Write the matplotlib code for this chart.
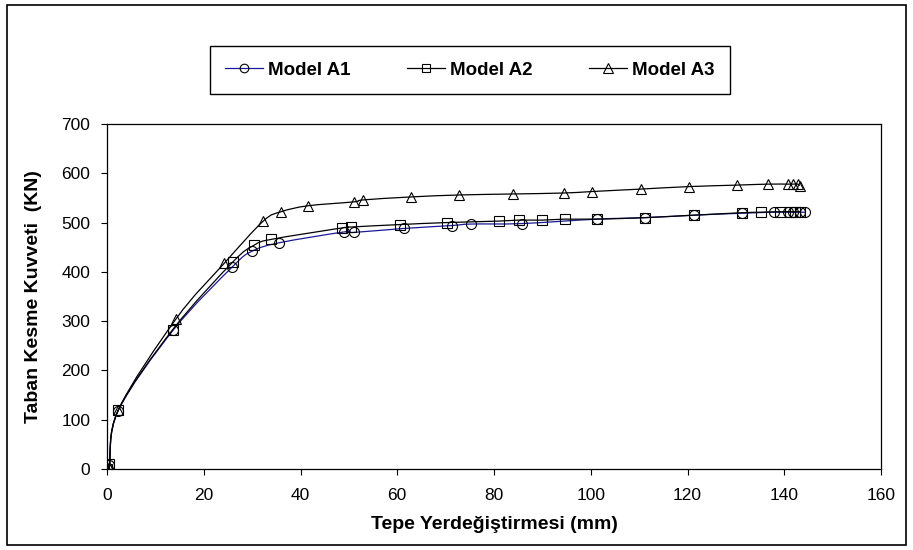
import numpy as np
import matplotlib
matplotlib.use("Agg")
import matplotlib.pyplot as plt
from matplotlib.path import Path
from matplotlib.patches import PathPatch, Rectangle
from matplotlib.lines import Line2D

plt.rcParams['font.family'] = ['Liberation Sans', 'DejaVu Sans']

# --- veriler (okunan değerler) ---
a1_x = [0, 0.5, 2.3, 13.7, 25.9, 30.0, 35.6, 49.0, 51.0, 61.3, 71.3, 75.2, 85.7,
        101.3, 111.2, 121.3, 131.3, 137.9, 140.8, 141.8, 143.3, 144.3]
a1_y = [0, 8, 118, 282, 410, 442, 459, 481, 480, 488, 494, 497, 498,
        507, 510, 515, 519, 521, 521, 521, 521, 521]

a2_x = [0, 0.5, 2.3, 13.6, 26.0, 30.4, 34.0, 48.5, 50.5, 60.6, 70.2, 81.0, 85.2,
        90.0, 94.7, 101.3, 111.2, 121.3, 131.3, 135.1, 139.1, 141.2, 142.3, 143.3]
a2_y = [0, 10, 119, 283, 420, 454, 466, 489, 491, 496, 500, 503, 505,
        505, 507, 507, 510, 515, 520, 521, 522, 522, 522, 522]

a3_x = [0, 0.5, 2.3, 14.3, 24.2, 32.3, 36.0, 41.5, 51.0, 53.0, 62.8, 72.8, 83.9,
        94.5, 100.3, 110.4, 120.3, 130.2, 136.6, 140.8, 141.8, 142.8, 143.2]
a3_y = [0, 5, 119, 305, 417, 503, 522, 534, 542, 546, 552, 556, 558,
        560, 563, 568, 573, 576, 578, 578, 578, 578, 575]

labels = ["Model A1", "Model A2", "Model A3"]


def smooth_path(xs, ys):
    # Excel tarzı yumuşatılmış çizgi (Catmull-Rom -> Bezier)
    p = np.column_stack([xs, ys]).astype(float)
    pts = np.vstack([p[0], p, p[-1]])
    verts = [p[0]]
    codes = [Path.MOVETO]
    for i in range(1, len(pts) - 2):
        p0, p1, p2, p3 = pts[i - 1], pts[i], pts[i + 1], pts[i + 2]
        c1 = p1 + (p2 - p0) / 6.0
        c2 = p2 - (p3 - p1) / 6.0
        verts += [c1, c2, p2]
        codes += [Path.CURVE4] * 3
    return Path(verts, codes)


fig = plt.figure(figsize=(9.13, 5.5), dpi=100)
ax = fig.add_axes([107 / 913, 1 - 469 / 550, (881 - 107) / 913, (469 - 124) / 550])

series = [
    (a1_x, a1_y, "#1a1a9a", "o", 7.2),
    (a2_x, a2_y, "black", "s", 6.6),
    (a3_x, a3_y, "black", "^", 7.8),
]

handles = []
for (xs, ys, col, mk, ms), lab in zip(series, labels):
    ax.add_patch(PathPatch(smooth_path(xs, ys), fill=False, edgecolor=col, lw=0.9))
    ax.plot(xs, ys, linestyle="none", marker=mk, markersize=ms, markerfacecolor="none",
            markeredgecolor="black", markeredgewidth=0.8)
    handles.append(Line2D([], [], color=col, lw=0.9, marker=mk, markersize=ms - 1,
                          markerfacecolor="none", markeredgecolor="black", markeredgewidth=0.8))

ax.set_xlim(0, 160)
ax.set_ylim(0, 700)
ax.set_xticks(np.arange(0, 161, 20))
ax.set_yticks(np.arange(0, 701, 100))
ax.tick_params(direction="out", length=4, width=0.8, labelsize=12.5)
ax.tick_params(axis="x", pad=10)
ax.tick_params(axis="y", pad=8)
for s in ax.spines.values():
    s.set_linewidth(0.9)
    s.set_color("black")

ax.set_xlabel("Tepe Yerdeğiştirmesi (mm)", fontsize=14, fontweight="bold", labelpad=9)
ax.set_ylabel("Taban Kesme Kuvveti  (KN)", fontsize=14, fontweight="bold", labelpad=14)

leg = fig.legend(handles, labels, loc="center", ncol=3,
                 bbox_to_anchor=(470 / 913, 1 - 70 / 550),
                 prop={"weight": "bold", "size": 13.5},
                 frameon=True, fancybox=False, framealpha=1, edgecolor="black",
                 handlelength=2.0, handletextpad=0.3, columnspacing=3.0,
                 borderpad=0.8, numpoints=1)
leg.get_frame().set_linewidth(1.0)

# dış çerçeve
fig.patches.append(Rectangle((7 / 913, 5 / 550), 899 / 913, 540 / 550, transform=fig.transFigure,
                             fill=False, edgecolor="black", lw=1.2))

fig.savefig("out.png", dpi=100)
